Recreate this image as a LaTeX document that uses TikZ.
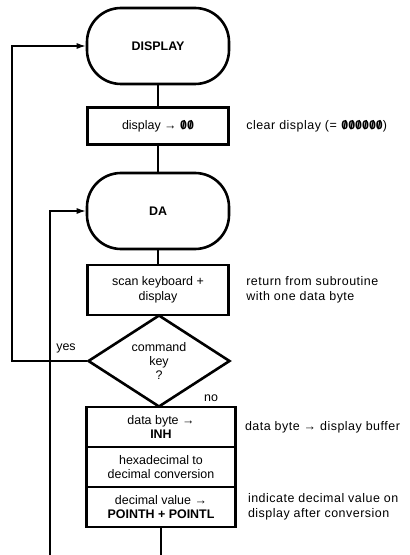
\documentclass[tikz,border=0pt]{standalone}
\usepackage{fontspec}
\setmainfont{Liberation Sans}
\usetikzlibrary{arrows.meta,positioning,shapes.geometric}
\tikzset{>=Latex}
\tikzset{
  term/.style={draw, line width=2.6bp, rounded corners=34bp, minimum width=142bp, minimum height=76bp, inner sep=0pt},
  proc/.style={draw, line width=2.6bp, minimum width=141bp, inner sep=3bp, align=center},
  cell/.style={draw, line width=2.6bp, minimum width=149bp, minimum height=40bp, inner sep=0pt, outer sep=0pt, align=center},
  decide/.style={draw, diamond, aspect=1.55, line width=2.6bp, minimum width=142bp, minimum height=92bp, inner sep=0pt, align=center},
  note/.style={anchor=west, align=left, font=\fontsize{12.5}{15}\selectfont\addfontfeature{LetterSpace=4}},
  link/.style={line width=1.2bp},
  arrow/.style={-{Latex[length=9bp,width=6bp]}, line width=1.2bp},
}
% slashed zero as on the display
\newcommand{\zslash}{\textbf{\ooalign{0\cr\hidewidth/\hidewidth\cr}}}

\begin{document}
\begin{tikzpicture}[x=1bp, y=-1bp, font=\fontsize{12.5}{14.5}\selectfont]
\useasboundingbox (0,0) rectangle (409,555);

% --- main column ---
\node[term] (disp) at (158,46) {\textbf{DISPLAY}};
\node[proc, minimum height=37bp] (clr) at (158,126) {display → \zslash\zslash};
\node[term] (da) at (158,211) {\textbf{DA}};
\node[proc, minimum height=50bp] (scan) at (158,290) {scan keyboard +\\display};
\node[decide] (cmd) at (159,361) {command\\key\\?};

% stacked processing cells
\node[cell] (inh) at (161,427) {data byte →\\\textbf{INH}};
\node[cell, below=0pt of inh] (hex) {hexadecimal to\\decimal conversion};
\node[cell, below=0pt of hex] (pnt) {decimal value →\\\textbf{POINTH + POINTL}};

\draw[link] (disp) -- (clr);
\draw[link] (clr) -- (da);
\draw[link] (da) -- (scan);

% branch labels
\node (yes) at (66,348) {yes};
\node (no) at (211,398) {no};

% --- loops back ---
\coordinate (yesx) at (12,0);
\coordinate (back) at (50,555);
\coordinate (exit) at (162,555);
\draw[arrow] (cmd.west) -- (cmd.west -| yesx) |- (disp.west);
\draw[arrow] (back) |- (da.west);
\draw[link] (pnt.south) -- (pnt.south |- exit);

% --- comments on the right ---
\node[note, right=13bp of clr] (n1) {clear display (= \zslash\zslash\zslash\zslash\zslash\zslash)};
\node[note, right=13bp of scan] (n2) {return from subroutine\\with one data byte};
\node[note, right=6bp of inh] (n3) {data byte → display buffer};
\node[note, right=9bp of pnt] (n4) {indicate decimal value on\\display after conversion};

\end{tikzpicture}
\end{document}
